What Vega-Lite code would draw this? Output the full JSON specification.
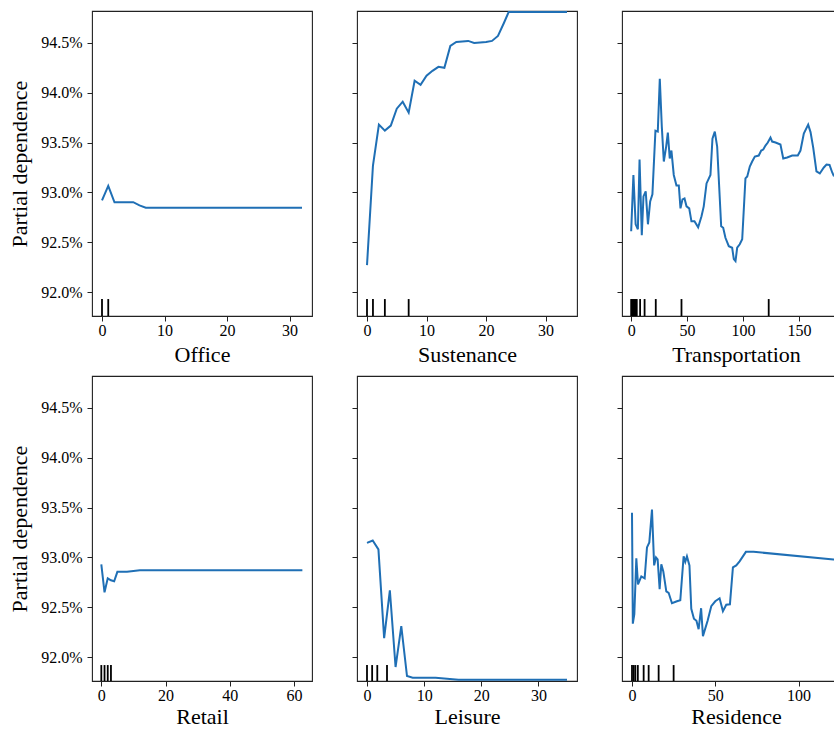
{
  "$schema": "https://vega.github.io/schema/vega-lite/v6.json",
  "background": "white",
  "padding": {"left": 8, "top": 10, "right": -16, "bottom": 0},
  "autosize": {"type": "pad"},
  "config": {
    "font": "Liberation Serif",
    "view": {"stroke": "#222222", "strokeWidth": 1.1},
    "axis": {"domain": false, "grid": false, "ticks": true, "tickColor": "#222222", "tickSize": 5, "tickWidth": 1, "labelFont": "Liberation Serif", "labelFontSize": 16, "labelColor": "#000000", "titleFont": "Liberation Serif", "titleFontSize": 22, "titleFontWeight": "normal", "titleColor": "#000000", "labelFlush": false},
    "axisX": {"labelPadding": 1, "titlePadding": 6, "labelFont": "Liberation Serif", "titleFont": "Liberation Serif"},
    "axisY": {"labelPadding": 5, "titlePadding": 9, "labelFont": "Liberation Serif", "titleFont": "Liberation Serif"}
  },
  "datasets": {
    "pd": [
      {"f": "Office", "x": 0, "v": 0.9292}, {"f": "Office", "x": 1, "v": 0.93065}, {"f": "Office", "x": 2, "v": 0.9290}, {"f": "Office", "x": 3, "v": 0.9290}, {"f": "Office", "x": 4, "v": 0.92902}, {"f": "Office", "x": 5, "v": 0.92902}, {"f": "Office", "x": 6, "v": 0.9287}, {"f": "Office", "x": 7, "v": 0.92847}, {"f": "Office", "x": 15, "v": 0.92847}, {"f": "Office", "x": 32, "v": 0.92847},

      {"f": "Sustenance", "x": 0, "v": 0.9227}, {"f": "Sustenance", "x": 1, "v": 0.9327}, {"f": "Sustenance", "x": 2, "v": 0.9368}, {"f": "Sustenance", "x": 3, "v": 0.9362}, {"f": "Sustenance", "x": 4, "v": 0.9367}, {"f": "Sustenance", "x": 5, "v": 0.9384}, {"f": "Sustenance", "x": 6, "v": 0.9391}, {"f": "Sustenance", "x": 7, "v": 0.9380}, {"f": "Sustenance", "x": 8, "v": 0.9412}, {"f": "Sustenance", "x": 9, "v": 0.9408}, {"f": "Sustenance", "x": 10, "v": 0.9417}, {"f": "Sustenance", "x": 11, "v": 0.9422}, {"f": "Sustenance", "x": 12, "v": 0.9426}, {"f": "Sustenance", "x": 13, "v": 0.9425}, {"f": "Sustenance", "x": 14, "v": 0.9447}, {"f": "Sustenance", "x": 15, "v": 0.9451}, {"f": "Sustenance", "x": 16, "v": 0.94515}, {"f": "Sustenance", "x": 17, "v": 0.9452}, {"f": "Sustenance", "x": 18, "v": 0.9450}, {"f": "Sustenance", "x": 19, "v": 0.94505}, {"f": "Sustenance", "x": 20, "v": 0.9451}, {"f": "Sustenance", "x": 21, "v": 0.9452}, {"f": "Sustenance", "x": 22, "v": 0.9457}, {"f": "Sustenance", "x": 23, "v": 0.9470}, {"f": "Sustenance", "x": 23.8, "v": 0.9481}, {"f": "Sustenance", "x": 28, "v": 0.9481}, {"f": "Sustenance", "x": 33.6, "v": 0.9481},

      {"f": "Transportation", "x": 0, "v": 0.9261}, {"f": "Transportation", "x": 2, "v": 0.93175}, {"f": "Transportation", "x": 4, "v": 0.9268}, {"f": "Transportation", "x": 6, "v": 0.9263}, {"f": "Transportation", "x": 7.5, "v": 0.9333}, {"f": "Transportation", "x": 9.5, "v": 0.9257}, {"f": "Transportation", "x": 11, "v": 0.9296}, {"f": "Transportation", "x": 13, "v": 0.9301}, {"f": "Transportation", "x": 15, "v": 0.9268}, {"f": "Transportation", "x": 17, "v": 0.9291}, {"f": "Transportation", "x": 19, "v": 0.9298}, {"f": "Transportation", "x": 21.7, "v": 0.9362}, {"f": "Transportation", "x": 23.8, "v": 0.9361}, {"f": "Transportation", "x": 25.6, "v": 0.9414}, {"f": "Transportation", "x": 27.4, "v": 0.9366}, {"f": "Transportation", "x": 29.2, "v": 0.9331}, {"f": "Transportation", "x": 31.3, "v": 0.9346}, {"f": "Transportation", "x": 32.8, "v": 0.9360}, {"f": "Transportation", "x": 34.5, "v": 0.9334}, {"f": "Transportation", "x": 36, "v": 0.9342}, {"f": "Transportation", "x": 38.1, "v": 0.93175}, {"f": "Transportation", "x": 40.5, "v": 0.9307}, {"f": "Transportation", "x": 42.6, "v": 0.9307}, {"f": "Transportation", "x": 44.1, "v": 0.9284}, {"f": "Transportation", "x": 45.9, "v": 0.9293}, {"f": "Transportation", "x": 47.7, "v": 0.9294}, {"f": "Transportation", "x": 49.5, "v": 0.9286}, {"f": "Transportation", "x": 51.9, "v": 0.9284}, {"f": "Transportation", "x": 53.9, "v": 0.9271}, {"f": "Transportation", "x": 56.6, "v": 0.9271}, {"f": "Transportation", "x": 59.9, "v": 0.9265}, {"f": "Transportation", "x": 62.9, "v": 0.9276}, {"f": "Transportation", "x": 64.9, "v": 0.9286}, {"f": "Transportation", "x": 67.4, "v": 0.9309}, {"f": "Transportation", "x": 70.9, "v": 0.93175}, {"f": "Transportation", "x": 72.7, "v": 0.9354}, {"f": "Transportation", "x": 74.8, "v": 0.9361}, {"f": "Transportation", "x": 76.9, "v": 0.9346}, {"f": "Transportation", "x": 80.5, "v": 0.9266}, {"f": "Transportation", "x": 82.3, "v": 0.92645}, {"f": "Transportation", "x": 84.3, "v": 0.92545}, {"f": "Transportation", "x": 87.3, "v": 0.9246}, {"f": "Transportation", "x": 90.3, "v": 0.92445}, {"f": "Transportation", "x": 91.8, "v": 0.9233}, {"f": "Transportation", "x": 93.3, "v": 0.9231}, {"f": "Transportation", "x": 94.8, "v": 0.92445}, {"f": "Transportation", "x": 97.1, "v": 0.9248}, {"f": "Transportation", "x": 99.3, "v": 0.9253}, {"f": "Transportation", "x": 102.2, "v": 0.9314}, {"f": "Transportation", "x": 103.8, "v": 0.9316}, {"f": "Transportation", "x": 106.1, "v": 0.9326}, {"f": "Transportation", "x": 108.2, "v": 0.9331}, {"f": "Transportation", "x": 110.6, "v": 0.9336}, {"f": "Transportation", "x": 114.1, "v": 0.9337}, {"f": "Transportation", "x": 116.3, "v": 0.9342}, {"f": "Transportation", "x": 118.1, "v": 0.9343}, {"f": "Transportation", "x": 120.1, "v": 0.9347}, {"f": "Transportation", "x": 122.2, "v": 0.9350}, {"f": "Transportation", "x": 124.6, "v": 0.9355}, {"f": "Transportation", "x": 126.1, "v": 0.9351}, {"f": "Transportation", "x": 129.1, "v": 0.9350}, {"f": "Transportation", "x": 133.5, "v": 0.9348}, {"f": "Transportation", "x": 136, "v": 0.9334}, {"f": "Transportation", "x": 139.5, "v": 0.9335}, {"f": "Transportation", "x": 144, "v": 0.9337}, {"f": "Transportation", "x": 147, "v": 0.9337}, {"f": "Transportation", "x": 149, "v": 0.9337}, {"f": "Transportation", "x": 151.4, "v": 0.9342}, {"f": "Transportation", "x": 154.4, "v": 0.9359}, {"f": "Transportation", "x": 158.3, "v": 0.9368}, {"f": "Transportation", "x": 160.4, "v": 0.93605}, {"f": "Transportation", "x": 162.8, "v": 0.9345}, {"f": "Transportation", "x": 165.7, "v": 0.9321}, {"f": "Transportation", "x": 168.7, "v": 0.9319}, {"f": "Transportation", "x": 172.3, "v": 0.9325}, {"f": "Transportation", "x": 174.7, "v": 0.9328}, {"f": "Transportation", "x": 177.4, "v": 0.93275}, {"f": "Transportation", "x": 179.8, "v": 0.9320}, {"f": "Transportation", "x": 181, "v": 0.9317}, {"f": "Transportation", "x": 184, "v": 0.9316},

      {"f": "Retail", "x": 0, "v": 0.9293}, {"f": "Retail", "x": 1, "v": 0.9265}, {"f": "Retail", "x": 2, "v": 0.9279}, {"f": "Retail", "x": 3, "v": 0.9277}, {"f": "Retail", "x": 4, "v": 0.9276}, {"f": "Retail", "x": 5, "v": 0.92855}, {"f": "Retail", "x": 8, "v": 0.92855}, {"f": "Retail", "x": 12, "v": 0.9287}, {"f": "Retail", "x": 30, "v": 0.9287}, {"f": "Retail", "x": 62.6, "v": 0.9287},

      {"f": "Leisure", "x": 0, "v": 0.93146}, {"f": "Leisure", "x": 1, "v": 0.9317}, {"f": "Leisure", "x": 2, "v": 0.9308}, {"f": "Leisure", "x": 3, "v": 0.9219}, {"f": "Leisure", "x": 4, "v": 0.9267}, {"f": "Leisure", "x": 5, "v": 0.9190}, {"f": "Leisure", "x": 6, "v": 0.9231}, {"f": "Leisure", "x": 7, "v": 0.9181}, {"f": "Leisure", "x": 8, "v": 0.91793}, {"f": "Leisure", "x": 12, "v": 0.91793}, {"f": "Leisure", "x": 16, "v": 0.91772}, {"f": "Leisure", "x": 25, "v": 0.91772}, {"f": "Leisure", "x": 35, "v": 0.91772},

      {"f": "Residence", "x": 0, "v": 0.93447}, {"f": "Residence", "x": 0.5, "v": 0.92335}, {"f": "Residence", "x": 1.4, "v": 0.9243}, {"f": "Residence", "x": 2.6, "v": 0.9299}, {"f": "Residence", "x": 3.6, "v": 0.9273}, {"f": "Residence", "x": 4.6, "v": 0.9277}, {"f": "Residence", "x": 5.6, "v": 0.9281}, {"f": "Residence", "x": 7.6, "v": 0.9279}, {"f": "Residence", "x": 9, "v": 0.9310}, {"f": "Residence", "x": 10.4, "v": 0.9315}, {"f": "Residence", "x": 12, "v": 0.9348}, {"f": "Residence", "x": 13.3, "v": 0.9292}, {"f": "Residence", "x": 14.4, "v": 0.9300}, {"f": "Residence", "x": 15.4, "v": 0.9298}, {"f": "Residence", "x": 16.6, "v": 0.9268}, {"f": "Residence", "x": 17.6, "v": 0.9293}, {"f": "Residence", "x": 18.8, "v": 0.9286}, {"f": "Residence", "x": 20.6, "v": 0.9266}, {"f": "Residence", "x": 22, "v": 0.92645}, {"f": "Residence", "x": 24, "v": 0.9254}, {"f": "Residence", "x": 27, "v": 0.9256}, {"f": "Residence", "x": 29, "v": 0.9257}, {"f": "Residence", "x": 31, "v": 0.9301}, {"f": "Residence", "x": 32, "v": 0.92955}, {"f": "Residence", "x": 33, "v": 0.9301}, {"f": "Residence", "x": 34.5, "v": 0.9292}, {"f": "Residence", "x": 35.6, "v": 0.92485}, {"f": "Residence", "x": 37.2, "v": 0.92385}, {"f": "Residence", "x": 38.7, "v": 0.92365}, {"f": "Residence", "x": 40, "v": 0.9228}, {"f": "Residence", "x": 41.5, "v": 0.9249}, {"f": "Residence", "x": 42.6, "v": 0.9221}, {"f": "Residence", "x": 45.4, "v": 0.92365}, {"f": "Residence", "x": 47.6, "v": 0.9251}, {"f": "Residence", "x": 50, "v": 0.9256}, {"f": "Residence", "x": 52.6, "v": 0.9259}, {"f": "Residence", "x": 54.6, "v": 0.9246}, {"f": "Residence", "x": 56.6, "v": 0.92525}, {"f": "Residence", "x": 58.8, "v": 0.9253}, {"f": "Residence", "x": 60.6, "v": 0.9290}, {"f": "Residence", "x": 62.6, "v": 0.9292}, {"f": "Residence", "x": 64.6, "v": 0.9296}, {"f": "Residence", "x": 68.4, "v": 0.93056}, {"f": "Residence", "x": 73, "v": 0.93056}, {"f": "Residence", "x": 121, "v": 0.9298}, {"f": "Residence", "x": 124, "v": 0.92975}
    ],
    "rug": [
      {"f": "Office", "x": 0}, {"f": "Office", "x": 1},
      {"f": "Sustenance", "x": 0}, {"f": "Sustenance", "x": 1}, {"f": "Sustenance", "x": 3}, {"f": "Sustenance", "x": 7},
      {"f": "Transportation", "x": 0}, {"f": "Transportation", "x": 1}, {"f": "Transportation", "x": 2}, {"f": "Transportation", "x": 3}, {"f": "Transportation", "x": 4}, {"f": "Transportation", "x": 5}, {"f": "Transportation", "x": 8}, {"f": "Transportation", "x": 12}, {"f": "Transportation", "x": 22}, {"f": "Transportation", "x": 45}, {"f": "Transportation", "x": 123},
      {"f": "Retail", "x": 0}, {"f": "Retail", "x": 1}, {"f": "Retail", "x": 2}, {"f": "Retail", "x": 3},
      {"f": "Leisure", "x": 0}, {"f": "Leisure", "x": 0.9}, {"f": "Leisure", "x": 1.8}, {"f": "Leisure", "x": 3.5},
      {"f": "Residence", "x": 0}, {"f": "Residence", "x": 1}, {"f": "Residence", "x": 2}, {"f": "Residence", "x": 3.5}, {"f": "Residence", "x": 7}, {"f": "Residence", "x": 10}, {"f": "Residence", "x": 16}, {"f": "Residence", "x": 25}
    ]
  },
  "columns": 3,
  "spacing": {"row": 60, "column": 45},
  "bounds": "flush",
  "concat": [
    {
      "width": 220, "height": 305,
      "layer": [
        {"data": {"name": "rug"}, "transform": [{"filter": "datum.f === 'Office'"}],
         "mark": {"type": "rule", "color": "#000000", "strokeWidth": 1.8, "clip": true},
         "encoding": {
           "x": {"field": "x", "type": "quantitative", "scale": {"domain": [-1.6, 33.6], "nice": false, "zero": false}, "axis": {"values": [0, 10, 20, 30], "title": "Office", "labelFont": "Liberation Serif", "titleFont": "Liberation Serif"}},
           "y": {"datum": 0.9176, "type": "quantitative", "scale": {"domain": [0.9176, 0.9482], "nice": false, "zero": false}, "axis": {"values": [0.92, 0.925, 0.93, 0.935, 0.94, 0.945], "format": ".1%", "title": "Partial dependence", "labelFont": "Liberation Serif", "titleFont": "Liberation Serif"}},
           "y2": {"datum": 0.9193}
         }},
        {"data": {"name": "pd"}, "transform": [{"filter": "datum.f === 'Office'"}],
         "mark": {"type": "line", "color": "#1f6fb5", "strokeWidth": 2, "clip": true},
         "encoding": {
           "x": {"field": "x", "type": "quantitative", "axis": {"values": [0, 10, 20, 30], "title": "Office", "labelFont": "Liberation Serif", "titleFont": "Liberation Serif"}},
           "y": {"field": "v", "type": "quantitative", "axis": {"values": [0.92, 0.925, 0.93, 0.935, 0.94, 0.945], "format": ".1%", "title": "Partial dependence", "labelFont": "Liberation Serif", "titleFont": "Liberation Serif"}}
         }}
      ]
    },
    {
      "width": 220, "height": 305,
      "layer": [
        {"data": {"name": "rug"}, "transform": [{"filter": "datum.f === 'Sustenance'"}],
         "mark": {"type": "rule", "color": "#000000", "strokeWidth": 1.8, "clip": true},
         "encoding": {
           "x": {"field": "x", "type": "quantitative", "scale": {"domain": [-1.68, 35.28], "nice": false, "zero": false}, "axis": {"values": [0, 10, 20, 30], "title": "Sustenance", "labelFont": "Liberation Serif", "titleFont": "Liberation Serif"}},
           "y": {"datum": 0.9176, "type": "quantitative", "scale": {"domain": [0.9176, 0.9482], "nice": false, "zero": false}, "axis": {"values": [0.92, 0.925, 0.93, 0.935, 0.94, 0.945], "labels": false, "title": null}},
           "y2": {"datum": 0.9193}
         }},
        {"data": {"name": "pd"}, "transform": [{"filter": "datum.f === 'Sustenance'"}],
         "mark": {"type": "line", "color": "#1f6fb5", "strokeWidth": 2, "clip": true},
         "encoding": {
           "x": {"field": "x", "type": "quantitative", "axis": {"values": [0, 10, 20, 30], "title": "Sustenance", "labelFont": "Liberation Serif", "titleFont": "Liberation Serif"}},
           "y": {"field": "v", "type": "quantitative", "axis": {"values": [0.92, 0.925, 0.93, 0.935, 0.94, 0.945], "labels": false, "title": null}}
         }}
      ]
    },
    {
      "width": 228, "height": 305,
      "layer": [
        {"data": {"name": "rug"}, "transform": [{"filter": "datum.f === 'Transportation'"}],
         "mark": {"type": "rule", "color": "#000000", "strokeWidth": 1.8, "clip": true},
         "encoding": {
           "x": {"field": "x", "type": "quantitative", "scale": {"domain": [-8.2, 195.7], "nice": false, "zero": false}, "axis": {"values": [0, 50, 100, 150], "title": "Transportation", "labelFont": "Liberation Serif", "titleFont": "Liberation Serif"}},
           "y": {"datum": 0.9176, "type": "quantitative", "scale": {"domain": [0.9176, 0.9482], "nice": false, "zero": false}, "axis": {"values": [0.92, 0.925, 0.93, 0.935, 0.94, 0.945], "labels": false, "title": null}},
           "y2": {"datum": 0.9193}
         }},
        {"data": {"name": "pd"}, "transform": [{"filter": "datum.f === 'Transportation'"}],
         "mark": {"type": "line", "color": "#1f6fb5", "strokeWidth": 2, "clip": true},
         "encoding": {
           "x": {"field": "x", "type": "quantitative", "axis": {"values": [0, 50, 100, 150], "title": "Transportation", "labelFont": "Liberation Serif", "titleFont": "Liberation Serif"}},
           "y": {"field": "v", "type": "quantitative", "axis": {"values": [0.92, 0.925, 0.93, 0.935, 0.94, 0.945], "labels": false, "title": null}}
         }}
      ]
    },
    {
      "width": 220, "height": 305,
      "layer": [
        {"data": {"name": "rug"}, "transform": [{"filter": "datum.f === 'Retail'"}],
         "mark": {"type": "rule", "color": "#000000", "strokeWidth": 1.8, "clip": true},
         "encoding": {
           "x": {"field": "x", "type": "quantitative", "scale": {"domain": [-2.9, 65.6], "nice": false, "zero": false}, "axis": {"values": [0, 20, 40, 60], "title": "Retail", "titlePadding": 3, "labelFont": "Liberation Serif", "titleFont": "Liberation Serif"}},
           "y": {"datum": 0.9176, "type": "quantitative", "scale": {"domain": [0.9176, 0.9482], "nice": false, "zero": false}, "axis": {"values": [0.92, 0.925, 0.93, 0.935, 0.94, 0.945], "format": ".1%", "title": "Partial dependence", "labelFont": "Liberation Serif", "titleFont": "Liberation Serif"}},
           "y2": {"datum": 0.9192}
         }},
        {"data": {"name": "pd"}, "transform": [{"filter": "datum.f === 'Retail'"}],
         "mark": {"type": "line", "color": "#1f6fb5", "strokeWidth": 2, "clip": true},
         "encoding": {
           "x": {"field": "x", "type": "quantitative", "axis": {"values": [0, 20, 40, 60], "title": "Retail", "titlePadding": 3, "labelFont": "Liberation Serif", "titleFont": "Liberation Serif"}},
           "y": {"field": "v", "type": "quantitative", "axis": {"values": [0.92, 0.925, 0.93, 0.935, 0.94, 0.945], "format": ".1%", "title": "Partial dependence", "labelFont": "Liberation Serif", "titleFont": "Liberation Serif"}}
         }}
      ]
    },
    {
      "width": 220, "height": 305,
      "layer": [
        {"data": {"name": "rug"}, "transform": [{"filter": "datum.f === 'Leisure'"}],
         "mark": {"type": "rule", "color": "#000000", "strokeWidth": 1.8, "clip": true},
         "encoding": {
           "x": {"field": "x", "type": "quantitative", "scale": {"domain": [-1.75, 36.75], "nice": false, "zero": false}, "axis": {"values": [0, 10, 20, 30], "title": "Leisure", "titlePadding": 3, "labelFont": "Liberation Serif", "titleFont": "Liberation Serif"}},
           "y": {"datum": 0.9176, "type": "quantitative", "scale": {"domain": [0.9176, 0.9482], "nice": false, "zero": false}, "axis": {"values": [0.92, 0.925, 0.93, 0.935, 0.94, 0.945], "labels": false, "title": null}},
           "y2": {"datum": 0.9192}
         }},
        {"data": {"name": "pd"}, "transform": [{"filter": "datum.f === 'Leisure'"}],
         "mark": {"type": "line", "color": "#1f6fb5", "strokeWidth": 2, "clip": true},
         "encoding": {
           "x": {"field": "x", "type": "quantitative", "axis": {"values": [0, 10, 20, 30], "title": "Leisure", "titlePadding": 3, "labelFont": "Liberation Serif", "titleFont": "Liberation Serif"}},
           "y": {"field": "v", "type": "quantitative", "axis": {"values": [0.92, 0.925, 0.93, 0.935, 0.94, 0.945], "labels": false, "title": null}}
         }}
      ]
    },
    {
      "width": 228, "height": 305,
      "layer": [
        {"data": {"name": "rug"}, "transform": [{"filter": "datum.f === 'Residence'"}],
         "mark": {"type": "rule", "color": "#000000", "strokeWidth": 1.8, "clip": true},
         "encoding": {
           "x": {"field": "x", "type": "quantitative", "scale": {"domain": [-6, 130.9], "nice": false, "zero": false}, "axis": {"values": [0, 50, 100], "title": "Residence", "titlePadding": 3, "labelFont": "Liberation Serif", "titleFont": "Liberation Serif"}},
           "y": {"datum": 0.9176, "type": "quantitative", "scale": {"domain": [0.9176, 0.9482], "nice": false, "zero": false}, "axis": {"values": [0.92, 0.925, 0.93, 0.935, 0.94, 0.945], "labels": false, "title": null}},
           "y2": {"datum": 0.9192}
         }},
        {"data": {"name": "pd"}, "transform": [{"filter": "datum.f === 'Residence'"}],
         "mark": {"type": "line", "color": "#1f6fb5", "strokeWidth": 2, "clip": true},
         "encoding": {
           "x": {"field": "x", "type": "quantitative", "axis": {"values": [0, 50, 100], "title": "Residence", "titlePadding": 3, "labelFont": "Liberation Serif", "titleFont": "Liberation Serif"}},
           "y": {"field": "v", "type": "quantitative", "axis": {"values": [0.92, 0.925, 0.93, 0.935, 0.94, 0.945], "labels": false, "title": null}}
         }}
      ]
    }
  ]
}
